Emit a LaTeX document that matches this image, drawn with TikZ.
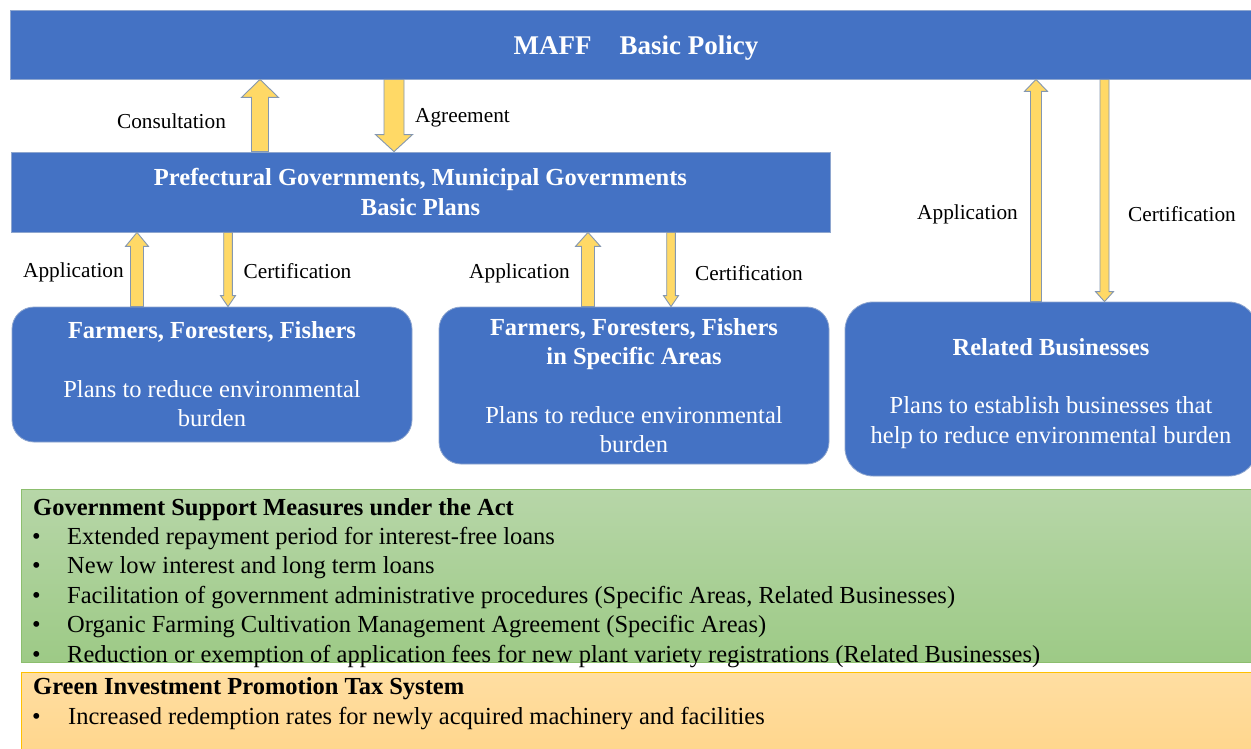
\documentclass[tikz,border=0pt]{standalone}
\usepackage{fontspec}
\setmainfont{Liberation Serif}
\usetikzlibrary{calc}

\definecolor{mafblue}{HTML}{4472C4}
\definecolor{barline}{HTML}{8EA6CF}
\definecolor{arrfill}{HTML}{FFD966}
\definecolor{arrline}{HTML}{8497B0}
\definecolor{greentop}{RGB}{183,214,168}
\definecolor{greenbot}{RGB}{157,202,134}
\definecolor{greenline}{RGB}{140,190,110}
\definecolor{orangetop}{RGB}{255,222,162}
\definecolor{orangebot}{RGB}{255,213,138}
\definecolor{orangeline}{HTML}{FFC000}

\tikzset{
  bluebar/.style={draw=barline, line width=0.8pt, fill=mafblue, text=white,
    inner sep=0pt, align=center, font=\fontsize{24.5}{29.4}\selectfont},
  plancard/.style={bluebar, rounded corners=22pt},
  yarrow/.style={draw=arrline, line width=0.9pt, fill=arrfill, line join=miter},
  flowlabel/.style={font=\fontsize{21.3}{25}\selectfont, inner sep=0pt},
  listline/.style={anchor=base west, inner sep=0pt, font=\fontsize{24.5}{29.4}\selectfont},
}

% block arrow: tail, tip, half shaft, half head, head length
\newcommand{\blkarrow}[5]{%
  \coordinate (bt) at (#1);
  \coordinate (bp) at (#2);
  \coordinate (bh) at ($(bp)!#5!(bt)$);
  \draw[yarrow] ($(bt)!#3!90:(bp)$) -- ($(bh)!#3!-90:(bt)$) -- ($(bh)!#4!-90:(bt)$) -- (bp)
    -- ($(bh)!#4!90:(bt)$) -- ($(bh)!#3!90:(bt)$) -- ($(bt)!#3!-90:(bp)$) -- cycle;
}

\begin{document}
\begin{tikzpicture}[x=1pt, y=-1pt]
\useasboundingbox (0,0) rectangle (1251,749);
\fill[white] (0,0) rectangle (1251,749);

% Ministry level
\node[bluebar, minimum width=1252pt, minimum height=69pt,
  font=\bfseries\fontsize{27}{32}\selectfont] (maff) at (636,44.5)
  {\raisebox{-3.5pt}[\height][\depth]{MAFF\hspace{28pt}Basic Policy}};

% Local governments
\node[bluebar, minimum width=819pt, minimum height=80pt,
  font=\bfseries\fontsize{24.5}{30}\selectfont] (pref) at (420.5,192)
  {Prefectural Governments, Municipal Governments\\Basic Plans};

% Applicants
\node[plancard, minimum width=400pt, minimum height=135pt] (farm) at (212,374.5)
  {\textbf{Farmers, Foresters, Fishers}\\[29pt]Plans to reduce environmental\\burden};
\node[plancard, minimum width=390pt, minimum height=157pt] (area) at (634,385.5)
  {\textbf{Farmers, Foresters, Fishers}\\\textbf{in Specific Areas}\\[29pt]Plans to reduce environmental\\burden};
\node[plancard, rounded corners=28pt, minimum width=412pt, minimum height=174pt] (biz) at (1051,389)
  {\rule{0pt}{26pt}\textbf{Related Businesses}\\[29pt]Plans to establish businesses that\\help to reduce environmental burden};

% Arrow positions
\coordinate (xcons) at (260,0);
\coordinate (xagr) at (394,0);
\coordinate (xappa) at (137,0);
\coordinate (xcerta) at (228,0);
\coordinate (xappb) at (588,0);
\coordinate (xcertb) at (671,0);
\coordinate (xappc) at (1036,0);
\coordinate (xcertc) at (1104.5,0);

\blkarrow{pref.north -| xcons}{maff.south -| xcons}{8.5pt}{18.5pt}{18pt}
\blkarrow{maff.south -| xagr}{pref.north -| xagr}{10pt}{18.5pt}{17pt}
\blkarrow{farm.north -| xappa}{pref.south -| xappa}{6.5pt}{11.5pt}{14pt}
\blkarrow{pref.south -| xcerta}{farm.north -| xcerta}{4.3pt}{7.5pt}{11pt}
\blkarrow{area.north -| xappb}{pref.south -| xappb}{6.5pt}{12.5pt}{14pt}
\blkarrow{pref.south -| xcertb}{area.north -| xcertb}{4.3pt}{7.5pt}{11pt}
\blkarrow{biz.north -| xappc}{maff.south -| xappc}{5.5pt}{11.5pt}{12pt}
\blkarrow{maff.south -| xcertc}{biz.north -| xcertc}{4.5pt}{9pt}{10pt}

% Arrow labels
\node[flowlabel] (lblcons) at (171.5,121) {Consultation};
\node[flowlabel] (lblagr) at (462.5,118) {Agreement};
\node[flowlabel] (lblappa) at (73.5,272) {Application};
\node[flowlabel] (lblcerta) at (297.5,271) {Certification};
\node[flowlabel] (lblappb) at (519.5,273) {Application};
\node[flowlabel] (lblcertb) at (749,273) {Certification};
\node[flowlabel] (lblappc) at (967.5,214) {Application};
\node[flowlabel] (lblcertc) at (1182,214) {Certification};

% Support measures
\node[draw=greenline, line width=0.8pt, top color=greentop, bottom color=greenbot,
  minimum width=1241pt, minimum height=173pt, inner sep=0pt, anchor=north west] (support) at (21,489) {};
\node[listline, font=\bfseries\fontsize{24.5}{29.4}\selectfont] (supporthead) at (33,515)
  {Government Support Measures under the Act};
\foreach \measure [count=\i] in {
    Extended repayment period for interest-free loans,
    New low interest and long term loans,
    {Facilitation of government administrative procedures (Specific Areas, Related Businesses)},
    Organic Farming Cultivation Management Agreement (Specific Areas),
    Reduction or exemption of application fees for new plant variety registrations (Related Businesses)} {
  \node[listline] (supbul\i) at (32,{515+29.4*\i}) {\textbullet};
  \node[listline] (sup\i) at (67,{515+29.4*\i}) {\measure};
}

% Tax system
\node[draw=orangeline, line width=0.8pt, top color=orangetop, bottom color=orangebot,
  minimum width=1241pt, minimum height=90pt, inner sep=0pt, anchor=north west] (tax) at (21,672) {};
\node[listline, font=\bfseries\fontsize{24.5}{29.4}\selectfont] (taxhead) at (33,694)
  {Green Investment Promotion Tax System};
\node[listline] (taxbul) at (32,724) {\textbullet};
\node[listline] (tax1) at (68,724) {Increased redemption rates for newly acquired machinery and facilities};

\end{tikzpicture}
\end{document}
